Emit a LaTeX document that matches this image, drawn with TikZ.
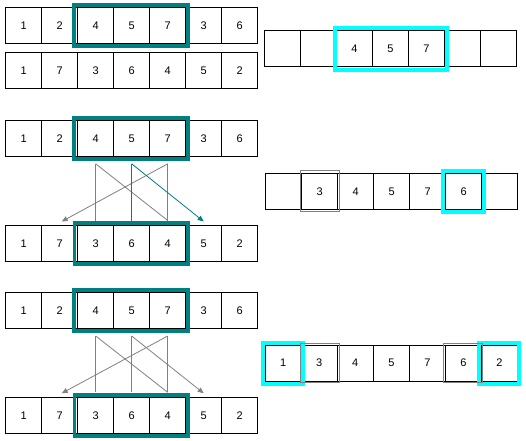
\documentclass[tikz,border=0pt]{standalone}
\usepackage{fontspec}
\setmainfont{Liberation Sans}
\usetikzlibrary{calc,arrows.meta}
\definecolor{tealc}{RGB}{0,128,128}
\definecolor{cyanc}{RGB}{0,255,255}
\definecolor{grayc}{RGB}{128,128,128}
\newcommand\cellrow[4]{\foreach \v [count=\i] in {#4} {\node[cell] (#1\i) at ({#2+18+36*(\i-1)},{#3+18}) {\v};}}
\begin{document}
\begin{tikzpicture}[x=1pt,y=-1pt,
  cell/.style={draw=black,line width=1pt,minimum width=36pt,minimum height=36pt,inner sep=0pt,font=\fontsize{11}{13}\selectfont},
  tealbox/.style={draw=tealc,line width=3.5pt},
  cyanbox/.style={draw=cyanc,line width=4pt},
  graybox/.style={draw=grayc,line width=1pt},
  gline/.style={color=grayc,line width=0.8pt},
  tline/.style={color=tealc,line width=0.8pt},
  arr/.style={-{Triangle[length=6pt,width=5pt]}}]
\useasboundingbox (0,0) rectangle (526,440);

\cellrow{a}{5.7}{7.7}{1,2,4,5,7,3,6}
\cellrow{b}{5.7}{52.8}{1,7,3,6,4,5,2}
\cellrow{c}{264.5}{30.5}{{},{},4,5,7,{},{}}
\cellrow{d}{5.7}{120.3}{1,2,4,5,7,3,6}
\cellrow{e}{5.7}{225.5}{1,7,3,6,4,5,2}
\cellrow{f}{265.7}{173.3}{{},3,4,5,7,6,{}}
\cellrow{g}{5.7}{292.5}{1,2,4,5,7,3,6}
\cellrow{h}{5.7}{397.3}{1,7,3,6,4,5,2}
\cellrow{k}{265.3}{345}{1,3,4,5,7,6,2}

% teal boxes
\draw[tealbox] ($(a3.north west)+(-3,-2)$) rectangle ($(a5.south east)+(2,2)$);
\draw[tealbox] ($(d3.north west)+(-3,-2)$) rectangle ($(d5.south east)+(2,2)$);
\draw[tealbox] ($(e3.north west)+(-2.7,-2)$) rectangle ($(e5.south east)+(2,2)$);
\draw[tealbox] ($(g3.north west)+(-3,-2)$) rectangle ($(g5.south east)+(2,2)$);
\draw[tealbox] ($(h3.north west)+(-2.7,-2)$) rectangle ($(h5.south east)+(2,2)$);

% cyan and gray boxes
\draw[cyanbox] ($(c3.north west)+(-1.5,-2)$) rectangle ($(c5.south east)+(2,2.5)$);
\draw[graybox] ($(f2.north west)+(-1,-2)$) rectangle ($(f2.south east)+(1.5,1.5)$);
\draw[cyanbox] ($(f6.north west)+(-1.8,-2)$) rectangle ($(f6.south east)+(2.2,2)$);
\draw[cyanbox] ($(k1.north west)+(-1.5,-1.5)$) rectangle ($(k1.south east)+(1.5,2)$);
\draw[cyanbox] ($(k7.north west)+(-1.5,-1.5)$) rectangle ($(k7.south east)+(1.5,2)$);
\draw[graybox] ($(k2.north west)+(-0.5,-1.2)$) rectangle ($(k2.south east)+(2,1.3)$);
\draw[graybox] ($(k6.north west)+(-1.5,-1.2)$) rectangle ($(k6.south east)+(0.5,1.3)$);

% connectors section 2
\coordinate (d3s) at ($(d3.south)+(0,7)$);
\coordinate (d4s) at ($(d4.south)+(0,7)$);
\coordinate (d5s) at ($(d5.south)+(0,7)$);
\coordinate (e3n) at ($(e3.north)+(0,-4.5)$);
\coordinate (e4n) at ($(e4.north)+(0,-4.5)$);
\coordinate (e5n) at ($(e5.north)+(0,-4.5)$);
\coordinate (e2n) at ($(e2.north)+(2,-3.5)$);
\coordinate (e6n) at ($(e6.north)+(0,-3.5)$);
\draw[gline] (d3s) -- (e3n);
\draw[gline] (d3s) -- (e5n);
\draw[gline] (d5s) -- (e5n);
\draw[gline,arr] (d5s) -- (e2n);
\draw[tline] (d4s) -- (e4n);
\draw[tline,arr] (d4s) -- (e6n);

% connectors section 3
\coordinate (g3s) at ($(g3.south)+(0,7)$);
\coordinate (g4s) at ($(g4.south)+(0,7)$);
\coordinate (g5s) at ($(g5.south)+(0,7)$);
\coordinate (h3n) at ($(h3.north)+(0,-4.5)$);
\coordinate (h4n) at ($(h4.north)+(0,-4.5)$);
\coordinate (h5n) at ($(h5.north)+(0,-4.5)$);
\coordinate (h2n) at ($(h2.north)+(2,-3.5)$);
\coordinate (h6n) at ($(h6.north)+(0,-3.5)$);
\draw[gline] (g3s) -- (h3n);
\draw[gline] (g3s) -- (h5n);
\draw[gline] (g5s) -- (h5n);
\draw[gline,arr] (g5s) -- (h2n);
\draw[gline] (g4s) -- (h4n);
\draw[gline,arr] (g4s) -- (h6n);
\end{tikzpicture}
\end{document}
